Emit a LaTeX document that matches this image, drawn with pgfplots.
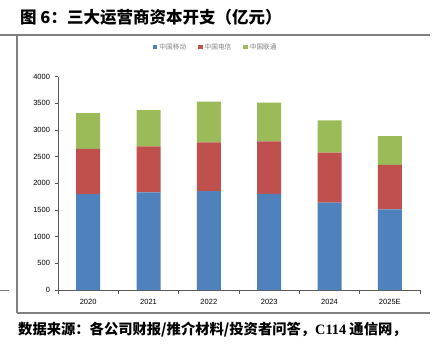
\documentclass[border=0pt]{standalone}
\usepackage{fontspec}
\usepackage{pgfplots}
\pgfplotsset{compat=1.18}
\setmainfont{Liberation Sans}
\newfontfamily\cjk{Noto Sans CJK SC}
\newfontfamily\serifb{Liberation Serif}
\definecolor{cmob}{HTML}{4F81BD}
\definecolor{ctel}{HTML}{C0504D}
\definecolor{cuni}{HTML}{9BBB59}
\definecolor{frame}{HTML}{7F7F7F}
\definecolor{axc}{HTML}{595959}
\begin{document}
\begin{tikzpicture}[x=1pt,y=1pt]
\useasboundingbox (0,0) rectangle (435,357);
% frame lines
\draw[frame,line width=1.2pt] (0,322) -- (430,322);
\draw[frame,line width=1.2pt] (17,322) -- (17,44);
\draw[frame,line width=1.2pt] (17,44) -- (430,44);
\draw[frame,line width=1pt] (0,67) -- (9,67);
% title
\node[anchor=west,inner sep=0pt] at (20,340) {\cjk\bfseries\fontsize{16.5}{18}\selectfont 图 6：三大运营商资本开支（亿元）};
% source
\node[anchor=west,inner sep=0pt] at (18,27) {\cjk\bfseries\fontsize{14.3}{16}\selectfont 数据来源：各公司财报/推介材料/投资者问答，{\serifb\bfseries C114} 通信网，};
\begin{axis}[
  at={(58pt,67pt)}, anchor=south west,
  scale only axis, width=362pt, height=213.3pt,
  xmin=-0.5, xmax=5.5, ymin=0, ymax=4000,
  ybar stacked, bar width=24pt,
  axis x line*=bottom, axis y line*=left,
  axis line style={axc, line width=0.9pt},
  xtick={0,1,2,3,4,5},
  xticklabels={2020,2021,2022,2023,2024,2025E},
  minor xtick={-0.5,0.5,1.5,2.5,3.5,4.5,5.5},
  major x tick style={draw=none},
  minor x tick style={axc, line width=0.7pt},
  minor tick length=3.5pt,
  ytick={0,500,...,4000},
  y tick style={axc, line width=0.7pt},
  major tick length=3.5pt,
  tick align=outside,
  ticklabel style={font=\fontsize{7.5}{9}\selectfont, text=black},
  /pgf/number format/assume math mode=true,
  /pgf/number format/1000 sep={},
  yticklabel style={xshift=-1pt},
  xticklabel style={yshift=-2pt},
  legend style={at={(0.436,1.139)}, anchor=center, draw=none, fill=none,
    legend columns=3, font=\cjk\fontsize{6.7}{8}\selectfont, text=gray,
    /tikz/every even column/.append style={column sep=10pt}},
  legend image code/.code={\fill[#1] (0pt,-2.2pt) rectangle (4.4pt,2.2pt);},
]
\addplot[fill=cmob, draw=none] coordinates {(0,1800) (1,1830) (2,1852) (3,1803) (4,1640) (5,1512)};
\addplot[fill=ctel, draw=none] coordinates {(0,845) (1,865) (2,915) (3,985) (4,935) (5,836)};
\addplot[fill=cuni, draw=none] coordinates {(0,670) (1,680) (2,765) (3,725) (4,605) (5,540)};
\legend{中国移动,中国电信,中国联通}
\end{axis}
\end{tikzpicture}
\end{document}
